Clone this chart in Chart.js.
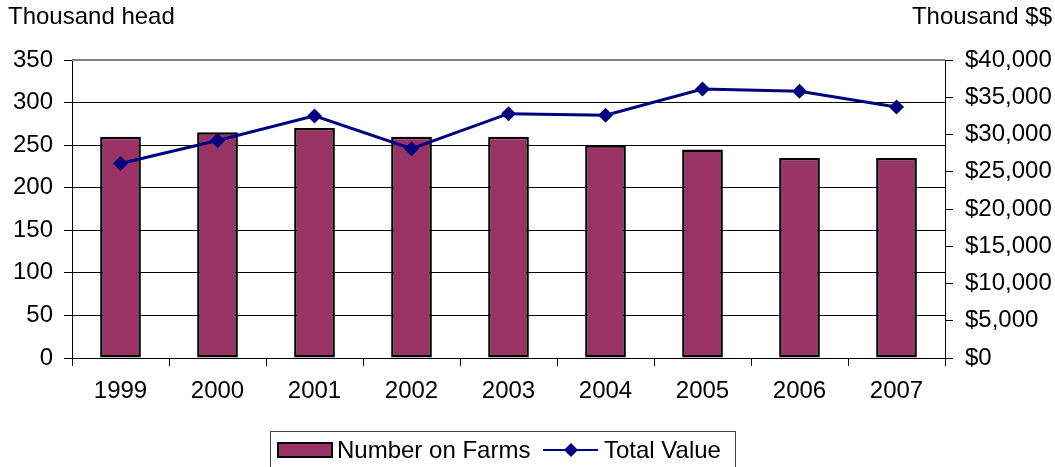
<!DOCTYPE html>
<html>
<head>
<meta charset="utf-8">
<script src="https://cdn.jsdelivr.net/npm/chart.js@4"></script>
<style>
  html, body { margin: 0; padding: 0; background: #fff; }
  #wrap { position: relative; width: 1055px; height: 467px; }
</style>
</head>
<body>
<div id="wrap"><canvas id="chart"></canvas></div>
<script>
// chart data
const years = ['1999', '2000', '2001', '2002', '2003', '2004', '2005', '2006', '2007'];
const numberOnFarms = [260, 265, 270, 260, 260, 250, 245, 235, 235];
const totalValue = [26100, 29200, 32500, 28100, 32800, 32600, 36100, 35800, 33700];
const leftAxisTitle = 'Thousand head';
const rightAxisTitle = 'Thousand $$';

const FONT = "'Liberation Sans', Arial, sans-serif";
const FONT_SIZE = 24;
const BAR_COLOR = '#993366';
const LINE_COLOR = '#000080';

Chart.defaults.font.family = FONT;
Chart.defaults.font.size = FONT_SIZE;
Chart.defaults.color = '#000';

// axis titles + custom legend box, drawn on the canvas
const extrasPlugin = {
  id: 'extras',
  afterDraw(chart) {
    const ctx = chart.ctx;
    const area = chart.chartArea;
    ctx.save();

    // grey plot border on top
    ctx.strokeStyle = '#808080';
    ctx.lineWidth = 2;
    ctx.beginPath();
    ctx.moveTo(area.left, area.top);
    ctx.lineTo(area.right, area.top);
    ctx.stroke();

    ctx.font = FONT_SIZE + 'px ' + FONT;
    ctx.fillStyle = '#000';
    ctx.textBaseline = 'middle';
    ctx.textAlign = 'left';
    ctx.fillText(leftAxisTitle, 8, 17);
    ctx.textAlign = 'right';
    ctx.fillText(rightAxisTitle, 1052, 17);

    // legend
    const lx = 270.5, ly = 431.5, lw = 465;
    ctx.strokeStyle = '#404040';
    ctx.lineWidth = 1;
    ctx.strokeRect(lx, ly, lw, 60);

    const cy = 450;
    ctx.fillStyle = BAR_COLOR;
    ctx.fillRect(278, 443, 54, 14);
    ctx.strokeStyle = '#000';
    ctx.lineWidth = 2;
    ctx.strokeRect(278, 443, 54, 14);

    ctx.fillStyle = '#000';
    ctx.textAlign = 'left';
    ctx.fillText(chart.data.datasets[0].label, 337, cy + 1);

    ctx.strokeStyle = LINE_COLOR;
    ctx.lineWidth = 2;
    ctx.beginPath();
    ctx.moveTo(543, cy);
    ctx.lineTo(598, cy);
    ctx.stroke();
    ctx.fillStyle = LINE_COLOR;
    ctx.beginPath();
    ctx.moveTo(571, cy - 7);
    ctx.lineTo(578, cy);
    ctx.lineTo(571, cy + 7);
    ctx.lineTo(564, cy);
    ctx.closePath();
    ctx.fill();

    ctx.fillStyle = '#000';
    ctx.fillText(chart.data.datasets[1].label, 604, cy + 1);

    ctx.restore();
  }
};

const ctx = document.getElementById('chart').getContext('2d');
new Chart(ctx, {
  type: 'bar',
  data: {
    labels: years,
    datasets: [
      {
        type: 'bar',
        label: 'Number on Farms',
        data: numberOnFarms,
        yAxisID: 'y',
        backgroundColor: BAR_COLOR,
        borderColor: '#000',
        borderWidth: 2.5,
        borderSkipped: false,
        barPercentage: 0.42,
        categoryPercentage: 1,
        order: 2
      },
      {
        type: 'line',
        label: 'Total Value',
        data: totalValue,
        yAxisID: 'y1',
        borderColor: LINE_COLOR,
        backgroundColor: LINE_COLOR,
        borderWidth: 3,
        pointStyle: 'rectRot',
        pointRadius: 7.5,
        pointHoverRadius: 7.5,
        pointBorderWidth: 0,
        tension: 0,
        order: 1
      }
    ]
  },
  options: {
    responsive: true,
    maintainAspectRatio: false,
    animation: false,
    layout: {
      padding: { top: 60, bottom: 49, left: 0, right: 0 }
    },
    plugins: {
      legend: { display: false },
      tooltip: { enabled: false }
    },
    scales: {
      x: {
        offset: true,
        grid: {
          offset: true,
          drawOnChartArea: false,
          drawTicks: true,
          tickLength: 8,
          color: '#000'
        },
        border: { color: '#000', width: 1 },
        ticks: { padding: 11, maxRotation: 0 },
        afterFit(scale) { scale.height = 60; }
      },
      y: {
        position: 'left',
        min: 0,
        max: 350,
        ticks: { stepSize: 50, padding: 11 },
        grid: { color: '#000', tickLength: 8, lineWidth: 1 },
        border: { color: '#000', width: 1 },
        afterFit(scale) { scale.width = 72; }
      },
      y1: {
        position: 'right',
        min: 0,
        max: 40000,
        ticks: {
          stepSize: 5000,
          padding: 12,
          callback: (v) => '$' + Number(v).toLocaleString('en-US')
        },
        grid: { drawOnChartArea: false, color: '#000', tickLength: 8 },
        border: { color: '#000', width: 1 },
        afterFit(scale) { scale.width = 110; }
      }
    }
  },
  plugins: [extrasPlugin]
});
</script>
</body>
</html>
